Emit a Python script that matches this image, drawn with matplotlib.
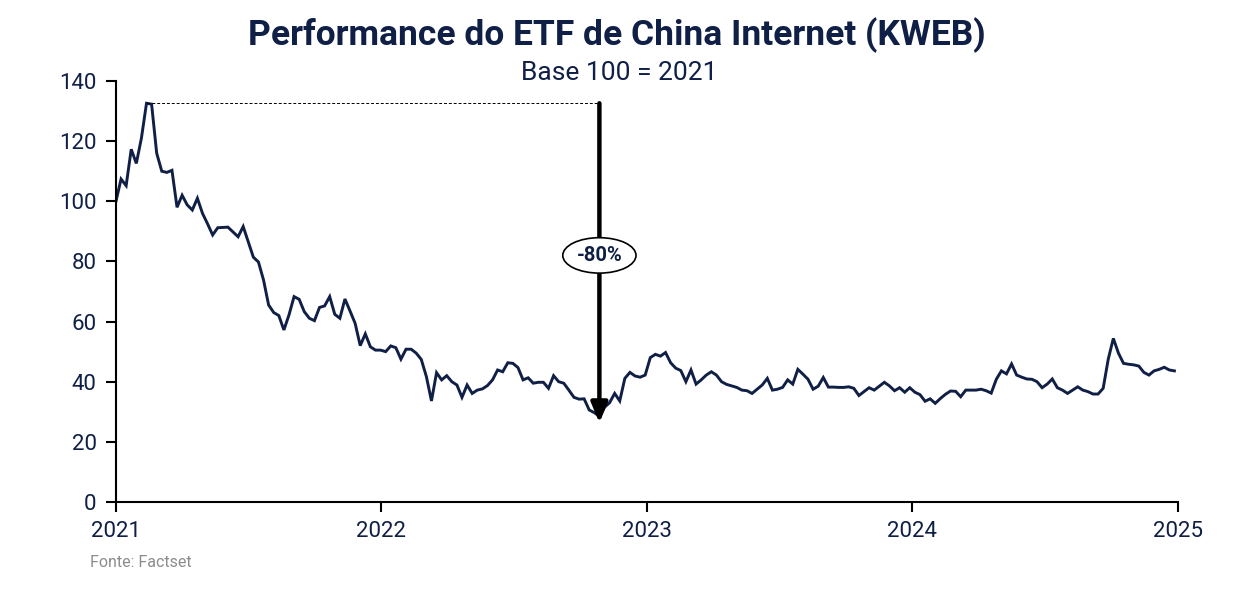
import matplotlib
matplotlib.use("Agg")
import matplotlib.pyplot as plt
import pandas as pd
import numpy as np

plt.rcParams['font.family'] = ['Roboto', 'DejaVu Sans']

NAVY = '#0f1f45'

# Weekly KWEB performance, base 100 = start of 2021
start_date = '2021-01-01'
end_date = '2024-12-27'
values = [
    100, 107.4, 105.2, 117.3, 112.6, 121, 132.6, 132.3, 116, 110,
    109.6, 110.3, 98, 102, 98.8, 97.1, 101, 96, 92.5, 88.8,
    91.2, 91.3, 91.4, 89.8, 88.2, 91.6, 86.5, 81.4, 79.8, 73.8,
    65.5, 63, 62, 57.2, 62.2, 68.3, 67.4, 63.3, 61.1, 60.3,
    64.7, 65.2, 68.3, 62.4, 61.1, 67.5, 63.5, 59.4, 52, 55.9,
    51.6, 50.5, 50.5, 50, 51.9, 51.3, 47.5, 50.8, 50.8, 49.5,
    47.4, 41.7, 33.6, 43, 40.6, 42, 40, 38.9, 34.8, 38.9,
    36.1, 37.2, 37.6, 38.7, 40.6, 43.9, 43.3, 46.3, 46.1, 44.7,
    40.6, 41.3, 39.5, 39.8, 39.8, 37.8, 42, 40, 39.5, 37.2,
    34.8, 34.2, 34.3, 30.6, 29.7, 28.5, 31.5, 33, 36.1, 33.6,
    41.1, 43.1, 41.9, 41.5, 42.2, 48, 49.1, 48.5, 49.7, 46.3,
    44.5, 43.7, 40, 43.9, 39.2, 40.6, 42.2, 43.3, 42.2, 40,
    39.1, 38.6, 38.1, 37.2, 37, 36.1, 37.5, 38.9, 41.1, 37.2,
    37.5, 38.1, 40.6, 39.2, 44.1, 42.5, 40.8, 37.5, 38.5, 41.4,
    38.2, 38.2, 38.1, 38.1, 38.3, 37.8, 35.4, 36.7, 38, 37.2,
    38.5, 39.8, 38.6, 37, 38, 36.5, 38, 36.5, 35.7, 33.5,
    34.3, 32.8, 34.4, 35.8, 36.9, 36.8, 35, 37.2, 37.2, 37.2,
    37.5, 37, 36.2, 40.8, 43.6, 42.6, 45.9, 42.2, 41.5, 40.9,
    40.8, 40, 38, 39.2, 40.9, 38, 37.2, 36.1, 37.2, 38.3,
    37.2, 36.7, 35.9, 35.9, 37.8, 47.5, 54.4, 49.5, 46.1, 45.8,
    45.6, 45.2, 43.1, 42.2, 43.6, 44.1, 44.8, 43.9, 43.6,
]
dates = pd.date_range(start_date, end_date, freq='7D')

y_ticks = [0, 20, 40, 60, 80, 100, 120, 140]
x_tick_labels = ['2021', '2022', '2023', '2024', '2025']

title = 'Performance do ETF de China Internet (KWEB)'
subtitle = 'Base 100 = 2021'
source = 'Fonte: Factset'
drop_label = '-80%'

fig = plt.figure(figsize=(12.39, 5.90), dpi=100)
ax = fig.add_axes([0.0936, 0.1492, 0.8572, 0.7135])

ax.plot(dates, values, color=NAVY, lw=2.1, solid_joinstyle='miter')

# peak / trough annotation
peak_i = int(np.argmax(values))
trough_i = int(np.argmin(values))
peak_val = values[peak_i]
trough_date = dates[trough_i]
ax.plot([dates[peak_i], trough_date], [peak_val, peak_val], color='black',
        lw=0.7, ls=(0, (3, 2)))
ax.annotate('', xy=(trough_date, 26.3), xytext=(trough_date, peak_val),
            arrowprops=dict(arrowstyle='-|>,head_length=1.2,head_width=0.5',
                            color='black', lw=3.2, shrinkA=0, shrinkB=0))
ax.text(trough_date, 82, drop_label, ha='center', va='center', fontsize=14.5,
        fontweight='bold', color=NAVY, zorder=6,
        bbox=dict(boxstyle='ellipse,pad=0.15', fc='white',
                  ec='black', lw=1.2))

ax.set_ylim(0, 140)
ax.set_xlim(pd.Timestamp('2021-01-01'), pd.Timestamp('2025-01-01'))
ax.set_yticks(y_ticks)
ax.set_yticklabels([str(t) for t in y_ticks])
ax.set_xticks([pd.Timestamp(f'{y}-01-01') for y in x_tick_labels])
ax.set_xticklabels(x_tick_labels)

for s in ['top', 'right']:
    ax.spines[s].set_visible(False)
for s in ['left', 'bottom']:
    ax.spines[s].set_color('black')
    ax.spines[s].set_linewidth(1.5)
ax.tick_params(axis='both', direction='out', length=7, width=1.5,
               colors='black', labelcolor=NAVY, labelsize=16)
ax.tick_params(axis='x', pad=7)
ax.tick_params(axis='y', pad=7)

fig.text(0.498, 0.94, title, ha='center', va='center', fontsize=25.5,
         fontweight='bold', color=NAVY)
fig.text(0.50, 0.876, subtitle, ha='center', va='center', fontsize=19,
         color=NAVY)
fig.text(0.073, 0.046, source, ha='left', va='center', fontsize=11.5,
         color='#8c8c8c')

fig.savefig('out.png', dpi=100)
